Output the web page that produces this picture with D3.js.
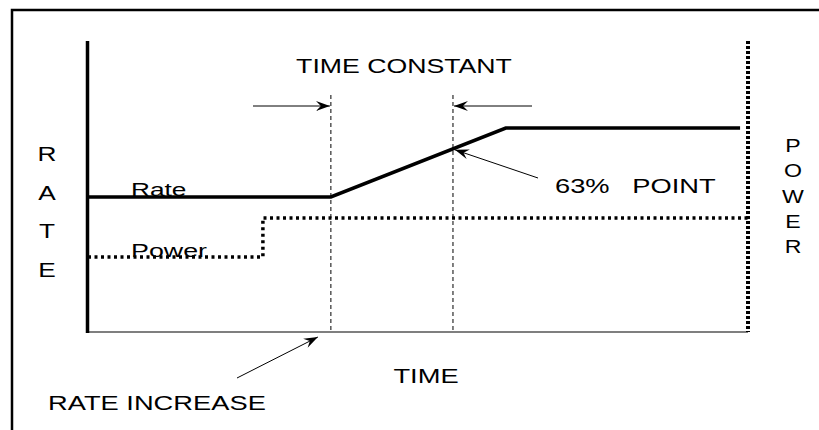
<!DOCTYPE html>
<html>
<head>
<meta charset="utf-8">
<script src="https://cdn.jsdelivr.net/npm/d3@7"></script>
<style>
  body { margin: 0; background: #fff; }
  text { font-family: Arial, "Liberation Sans", sans-serif; fill: #000; white-space: pre; }
</style>
</head>
<body>
<div id="chart"></div>
<script>
// reactor rate / power step response sketch
// time and level both in arbitrary 0..100 units

var rateTime = [0, 36.8, 63.3, 98.8]
var rateLevel = [46.4, 46.4, 70.1, 70.1]

var powerTime = [0, 26.5, 26.5, 100]
var powerLevel = [25.8, 25.8, 39.2, 39.2]

// rate increase moment and the 63% point
var markerTimes = [36.8, 55.3]
var markerLabels = ["RATE INCREASE", "63%   POINT"]

var leftLetters = ["R", "A", "T", "E"]
var rightLetters = ["P", "O", "W", "E", "R"]

var W = 819, H = 430

var svg = d3.select("#chart").append("svg")
  .attr("width", W).attr("height", H)

var x = d3.scaleLinear().domain([0, 100]).range([88, 748])
var y = d3.scaleLinear().domain([0, 100]).range([332, 41])

// arrow head
svg.append("defs").append("marker")
  .attr("id", "head")
  .attr("viewBox", "-14 -6 16 12")
  .attr("refX", 0).attr("refY", 0)
  .attr("markerWidth", 16).attr("markerHeight", 12)
  .attr("markerUnits", "userSpaceOnUse")
  .attr("orient", "auto")
  .append("path")
  .attr("d", "M0,0 L-14,-5 L-9,0 L-14,5 Z")
  .attr("fill", "#000")

// frame (top + left only)
svg.append("path")
  .attr("d", "M12,430 L12,10 L819,10")
  .attr("fill", "none").attr("stroke", "#000").attr("stroke-width", 2.5)

// axes
svg.append("line")
  .attr("x1", x(0)).attr("x2", x(100))
  .attr("y1", y(0)).attr("y2", y(0))
  .attr("stroke", "#555").attr("stroke-width", 1.5)
svg.append("line")
  .attr("x1", x(0) - 0.5).attr("x2", x(0) - 0.5)
  .attr("y1", y(100)).attr("y2", y(0) + 1)
  .attr("stroke", "#000").attr("stroke-width", 3.5)
svg.append("line")
  .attr("x1", x(100)).attr("x2", x(100))
  .attr("y1", y(100)).attr("y2", y(0))
  .attr("stroke", "#000").attr("stroke-width", 4)
  .attr("stroke-dasharray", "3,2")

// dashed time markers
svg.selectAll("line.marker")
  .data(markerTimes)
  .enter()
  .append("line")
  .attr("class", "marker")
  .attr("x1", function(d) { return x(d) }).attr("x2", function(d) { return x(d) })
  .attr("y1", 95).attr("y2", y(0))
  .attr("stroke", "#000").attr("stroke-width", 1)
  .attr("stroke-dasharray", "4,3")

var line = d3.line()
  .x(function(d) { return x(d[0]) })
  .y(function(d) { return y(d[1]) })

svg.append("path")
  .datum(d3.zip(powerTime, powerLevel))
  .attr("d", line)
  .attr("fill", "none").attr("stroke", "#000").attr("stroke-width", 3.5)
  .attr("stroke-dasharray", "3,3.5")

svg.append("path")
  .datum(d3.zip(rateTime, rateLevel))
  .attr("d", line)
  .attr("fill", "none").attr("stroke", "#000").attr("stroke-width", 3.5)

// arrows
function arrow(x1, y1, x2, y2) {
  svg.append("line")
    .attr("x1", x1).attr("y1", y1).attr("x2", x2).attr("y2", y2)
    .attr("stroke", "#000").attr("stroke-width", 1)
    .attr("marker-end", "url(#head)")
}
var t0 = x(markerTimes[0]), t1 = x(markerTimes[1])
arrow(253, 106, t0 - 1, 106)
arrow(532, 106, t1 + 1, 106)
var hitY = y(rateLevel[1] + (rateLevel[2] - rateLevel[1]) *
  (markerTimes[1] - rateTime[1]) / (rateTime[2] - rateTime[1]))
arrow(538, 178, t1 + 2, hitY + 1)
arrow(237, 378, t0 - 13, 337)

// texts - the original lettering is stretched sideways
function label(txt, tx, ty, size, sx, anchor) {
  svg.append("text")
    .attr("transform", "translate(" + tx + "," + ty + ") scale(" + sx + ",1)")
    .attr("font-size", size)
    .attr("text-anchor", anchor || "start")
    .text(txt)
}
label("TIME CONSTANT", 404, 73, 21, 1.27, "middle")
label(markerLabels[1], 555, 193, 21, 1.3)
label(markerLabels[0], 48, 410, 21, 1.3)
label("TIME", 426, 383, 21, 1.3, "middle")
label("Rate", 131, 196, 18.5, 1.42)
label("Power", 131, 257, 18.5, 1.45)

svg.selectAll("text.rl")
  .data(leftLetters)
  .enter()
  .append("text")
  .attr("class", "rl")
  .attr("transform", function(d, i) { return "translate(47," + (161 + i * 38.5) + ") scale(1.25,1)" })
  .attr("font-size", 21).attr("text-anchor", "middle")
  .text(function(d) { return d })

svg.selectAll("text.pl")
  .data(rightLetters)
  .enter()
  .append("text")
  .attr("class", "pl")
  .attr("transform", function(d, i) { return "translate(793," + (152 + i * 25.3) + ") scale(1.25,1)" })
  .attr("font-size", 18.5).attr("text-anchor", "middle")
  .text(function(d) { return d })
</script>
</body>
</html>
